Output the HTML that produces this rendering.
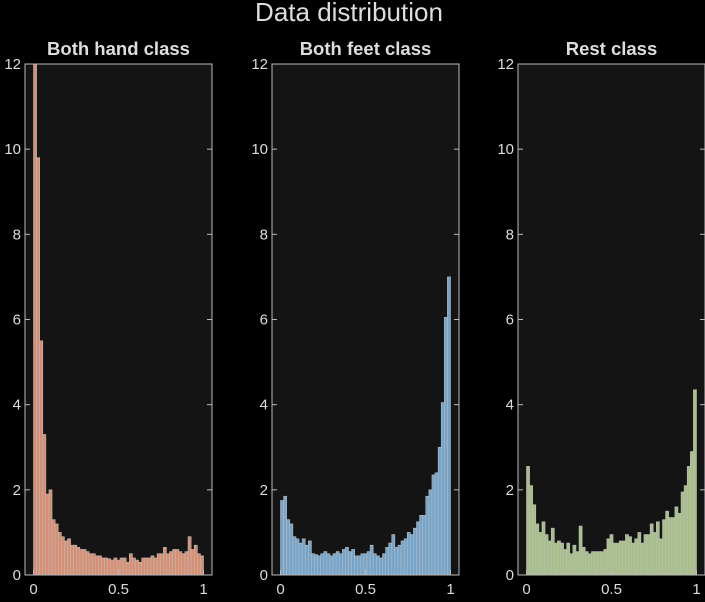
<!DOCTYPE html>
<html><head><meta charset="utf-8"><style>
body{margin:0;background:#000;width:705px;height:597px;overflow:hidden;font-family:"Liberation Sans",sans-serif}
</style></head><body>
<svg id="c" width="705" height="597"></svg>
<script>
const titles=["Both hand class","Both feet class","Rest class"];
const handVals=[12.5,9.8,5.5,3.3,1.9,2.0,1.3,1.2,1.0,0.9,0.8,0.85,0.7,0.7,0.65,0.6,0.6,0.55,0.5,0.5,0.45,0.45,0.4,0.4,0.38,0.35,0.4,0.35,0.4,0.4,0.3,0.5,0.4,0.35,0.3,0.4,0.4,0.4,0.45,0.4,0.5,0.5,0.65,0.5,0.55,0.6,0.6,0.55,0.5,0.55,0.9,0.6,0.7,0.5,0.45];
const feetVals=[1.75,1.85,1.3,1.2,0.9,0.85,0.75,0.85,0.7,0.8,0.5,0.48,0.45,0.5,0.55,0.5,0.45,0.5,0.55,0.5,0.6,0.65,0.55,0.6,0.45,0.45,0.5,0.5,0.55,0.7,0.5,0.45,0.4,0.5,0.65,0.75,0.95,0.65,0.7,0.8,0.85,1.0,0.95,1.1,1.25,1.4,1.4,1.85,2.0,2.35,2.4,3.0,4.05,6.05,7.0];
const restVals=[2.55,2.1,1.65,1.2,1.0,1.25,0.95,0.8,1.1,0.75,0.8,0.75,0.6,0.75,0.5,0.7,0.55,1.15,0.65,0.55,0.5,0.55,0.55,0.55,0.55,0.6,0.85,0.95,0.75,0.75,0.8,0.8,0.95,0.9,0.75,0.85,1.0,0.75,0.95,0.95,1.2,1.0,1.25,0.85,1.3,1.5,1.35,1.35,1.6,1.45,1.95,2.1,2.55,2.9,4.35];
const yTicks=[0,2,4,6,8,10,12];
const xTicks=[0,0.5,1];
const xTickLabels=["0","0.5","1"];
const series=[handVals,feetVals,restVals];
const colors=["#d98e72","#72a4cc","#a8c088"];
const lefts=[25,272,518];
const names=["hand","feet","rest"];
const svg=document.getElementById('c');
const NS="http://www.w3.org/2000/svg";
function mk(t,a,p){const e=document.createElementNS(NS,t);for(const k in a)e.setAttribute(k,a[k]);(p||svg).appendChild(e);return e;}
const topY=64,bot=575,W=187;
const t=mk('text',{x:349,y:21,fill:'#ddd','font-size':26,'text-anchor':'middle'});t.textContent="Data distribution";


series.forEach((vals,i)=>{
  const L=lefts[i];
  const g=mk('g',{});
  
  
  const xs=v=>L+W*(v+0.05)/1.1;
  const ys=v=>bot-(v/12)*(bot-topY);
  const bg=mk('rect',{x:L,y:topY,width:W,height:bot-topY,fill:'#141414'},g);
  
  
  const cp=mk('clipPath',{id:'cp'+i},g);mk('rect',{x:L,y:topY,width:W,height:bot-topY},cp);
  const bars=mk('g',{'clip-path':'url(#cp'+i+')'},g);
  const n=vals.length,bw=1/n;
  vals.forEach((v,j)=>{
    const x0=xs(j*bw),x1=xs((j+1)*bw);
    const r=mk('rect',{x:x0,y:ys(v),width:x1-x0,height:bot-ys(v),fill:colors[i],stroke:'#bbb','stroke-width':0.6},bars);
    
    
  });
  mk('rect',{x:L,y:topY,width:W,height:bot-topY,fill:'none',stroke:'#bbb','stroke-width':1},g);
  yTicks.forEach(v=>{
    const y=ys(v);
    mk('line',{x1:L,x2:L+5,y1:y,y2:y,stroke:'#bbb'},g);
    mk('line',{x1:L+W,x2:L+W-5,y1:y,y2:y,stroke:'#bbb'},g);
    const tl=mk('text',{x:L-4,y:y+5,fill:'#ddd','font-size':15,'text-anchor':'end'},g);tl.textContent=v;
    
    
  });
  xTicks.forEach((v,k)=>{
    const x=xs(v);
    mk('line',{x1:x,x2:x,y1:bot,y2:bot-5,stroke:'#bbb'},g);
    const tl=mk('text',{x:x,y:594,fill:'#ddd','font-size':15,'text-anchor':'middle'},g);tl.textContent=xTickLabels[k];
    
    
  });
  const pt=mk('text',{x:L+W/2,y:55,fill:'#ddd','font-size':18.5,'font-weight':'bold','text-anchor':'middle'},g);pt.textContent=titles[i];
  
  
});
</script>
</body></html>
